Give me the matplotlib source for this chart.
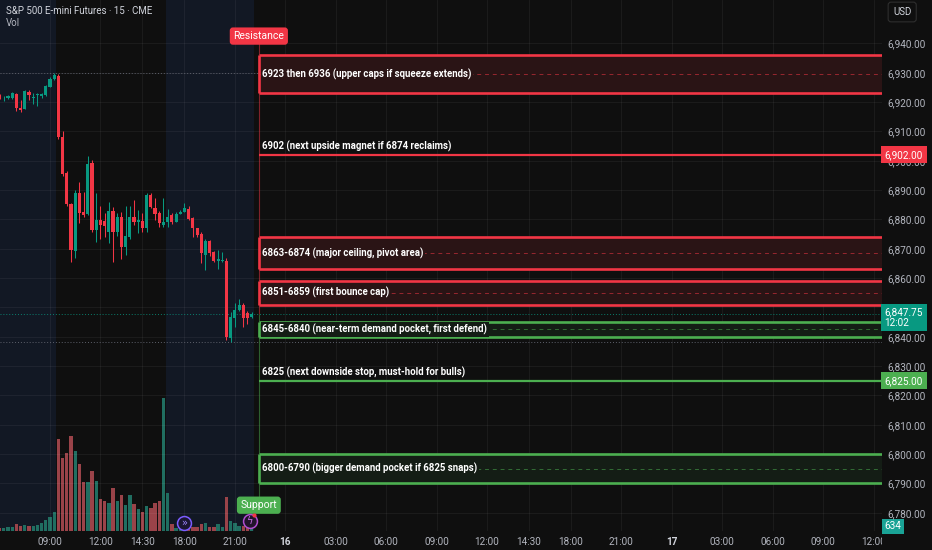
import matplotlib
matplotlib.use("Agg")
import matplotlib.pyplot as plt
import matplotlib.transforms as mtransforms
from matplotlib.colors import to_rgb

# ES 15m bars, bar 0 = 06:00 (session break 17:00-18:00 skipped)
opens = [6922.0, 6921.25, 6921.5, 6921.25, 6922.75, 6918.0, 6917.75, 6923.5, 6921.25, 6922.25,
         6922.0, 6922.5, 6925.25, 6927.75, 6929.0, 6908.0, 6895.75, 6885.25, 6869.25, 6889.0,
         6882.5, 6881.75, 6899.25, 6876.5, 6879.75, 6879.5, 6875.75, 6882.75, 6875.75, 6881.0,
         6870.75, 6874.0, 6881.0, 6879.0, 6879.5, 6877.0, 6888.25, 6883.75, 6882.25, 6878.0,
         6879.0, 6881.5, 6879.25, 6882.0, 6882.5, 6883.5, 6880.5, 6877.0, 6875.0, 6867.75,
         6872.5, 6868.75, 6866.0, 6866.0, 6866.0, 6839.5, 6846.25, 6849.0, 6850.75, 6848.0,
         6846.75]
highs = [6922.75, 6922.0, 6922.5, 6923.5, 6923.0, 6920.75, 6924.25, 6924.0, 6923.0, 6923.25,
         6923.25, 6925.75, 6928.5, 6930.0, 6929.5, 6910.25, 6896.5, 6885.5, 6890.0, 6892.75,
         6889.25, 6901.75, 6900.25, 6889.0, 6884.75, 6882.25, 6886.0, 6884.25, 6882.25, 6882.5,
         6884.75, 6884.75, 6886.5, 6883.25, 6882.25, 6889.0, 6889.0, 6887.25, 6882.75, 6887.25,
         6883.5, 6882.25, 6882.5, 6883.25, 6885.5, 6884.5, 6880.75, 6877.25, 6875.75, 6873.5,
         6873.0, 6869.25, 6869.5, 6869.0, 6866.75, 6848.5, 6851.5, 6853.0, 6851.5, 6848.75,
         6848.5]
lows = [6921.0, 6920.25, 6921.0, 6921.0, 6917.0, 6916.75, 6917.5, 6920.75, 6919.5, 6918.5,
        6921.5, 6922.0, 6925.0, 6927.5, 6907.5, 6894.75, 6884.5, 6865.5, 6866.75, 6878.75,
        6880.75, 6881.5, 6875.75, 6872.25, 6873.5, 6874.0, 6872.0, 6865.5, 6874.25, 6866.5,
        6867.75, 6873.5, 6878.0, 6875.25, 6875.75, 6875.75, 6883.75, 6879.75, 6877.5, 6877.5,
        6877.5, 6878.5, 6879.0, 6881.75, 6882.5, 6879.75, 6874.0, 6874.0, 6865.0, 6862.75,
        6867.5, 6865.5, 6863.25, 6865.5, 6839.0, 6838.25, 6843.5, 6848.75, 6843.5, 6844.5,
        6846.5]
closes = [6921.75, 6921.5, 6922.0, 6923.0, 6918.0, 6917.25, 6923.75, 6922.5, 6921.75, 6922.75,
          6922.75, 6925.5, 6927.75, 6929.25, 6908.0, 6895.5, 6885.25, 6869.5, 6889.0, 6882.25,
          6881.5, 6899.0, 6876.5, 6879.75, 6878.0, 6877.75, 6882.75, 6875.75, 6881.0, 6870.75,
          6874.25, 6880.75, 6879.25, 6879.75, 6877.25, 6888.25, 6884.25, 6882.0, 6878.75, 6879.25,
          6881.0, 6879.0, 6882.0, 6882.5, 6883.75, 6880.0, 6877.0, 6874.75, 6868.5, 6872.5,
          6868.5, 6866.0, 6866.5, 6866.25, 6840.0, 6846.75, 6849.0, 6850.75, 6846.25, 6846.25,
          6847.75]
volumes = [340, 340, 550, 550, 890, 640, 760, 640, 670, 760,
           980, 1400, 1820, 2370, 11650, 9310, 9870, 12100, 10160, 8470,
           6260, 6260, 7620, 6350, 4060, 3810, 3590, 5420, 3810, 4570,
           3300, 4570, 3430, 2790, 2370, 3210, 2960, 3520, 3810, 16850,
           4860, 890, 420, 340, 420, 340, 550, 550, 890, 1050,
           550, 550, 890, 550, 4280, 1270, 1050, 670, 670, 550,
           634]

time_ticks = [12, 24, 34, 44, 56, 68, 80, 92, 104, 116, 126, 136, 148, 160, 172, 184, 196, 208]
time_labels = ["09:00", "12:00", "14:30", "18:00", "21:00", "16", "03:00", "06:00", "09:00",
               "12:00", "14:30", "18:00", "21:00", "17", "03:00", "06:00", "09:00", "12:00"]
price_ticks = list(range(6780, 6941, 10))

rth_start, rth_end = 14, 39          # 09:30 .. 15:45 bars
drawing_start = 61.7                 # where the level drawings begin

zones = [
    (6923, 6936, "6923 then 6936 (upper caps if squeeze extends)", "res"),
    (6863, 6874, "6863-6874 (major ceiling, pivot area)", "res"),
    (6851, 6859, "6851-6859 (first bounce cap)", "res"),
    (6840, 6845, "6845-6840 (near-term demand pocket, first defend)", "sup"),
    (6790, 6800, "6800-6790 (bigger demand pocket if 6825 snaps)", "sup"),
]
levels = [
    (6902, "6902 (next upside magnet if 6874 reclaims)", "res"),
    (6825, "6825 (next downside stop, must-hold for bulls)", "sup"),
]
last_price = 6847.75
day_high = 6930.0
day_low = 6838.25
last_volume = 634

BG = "#0f0f0f"
EXT = "#121824"
UP = "#089981"
DN = "#f23645"
SUP = "#4caf50"
TXT = "#b2b5be"
col = {"res": DN, "sup": SUP}
plt.rcParams["font.family"] = ["Roboto", "DejaVu Sans"]


def mix(c, a, bg=BG):
    c, b = to_rgb(c), to_rgb(bg)
    return tuple(a * x + (1 - a) * y for x, y in zip(c, b))


fig = plt.figure(figsize=(9.32, 5.5), dpi=100, facecolor=BG)
rect = [0, 19 / 550, 882 / 932, 531 / 550]
xlim = (0.1, 210)

# volume + session shading underneath
axv = fig.add_axes(rect)
axv.set_facecolor(BG)
axv.set_xlim(*xlim)
axv.set_ylim(0, 67400)
axv.axis("off")
axv.axvspan(xlim[0], rth_start - 0.5, color=EXT, lw=0, zorder=0)
axv.axvspan(rth_end + 0.5, len(closes) - 0.5, color=EXT, lw=0, zorder=0)
x = list(range(len(closes)))
vcol = [mix("#2aa894", 0.62) if c >= o else mix("#e8606a", 0.64) for o, c in zip(opens, closes)]
axv.bar(x, volumes, width=0.8, color=vcol, zorder=2)

ax = fig.add_axes(rect, sharex=axv)
ax.patch.set_alpha(0)
ax.set_xlim(*xlim)
ax.set_ylim(6773.8, 6954.8)
for s in ax.spines.values():
    s.set_visible(False)

ax.set_xticks(time_ticks)
ax.set_xticklabels(time_labels)
ax.set_yticks(price_ticks)
ax.set_yticklabels([f"{p:,.2f}" for p in price_ticks])
ax.yaxis.tick_right()
ax.tick_params(axis="y", length=0, pad=4, labelsize=7.2, labelcolor=TXT)
ax.tick_params(axis="x", length=0, pad=4, labelsize=7.2, labelcolor=TXT)
ax.grid(True, color="#ffffff", alpha=0.05, lw=0.7)
clip = mtransforms.TransformedBbox(mtransforms.Bbox([[0, 0], [8.82, 5.5]]), fig.dpi_scale_trans)
for t, lab in zip(ax.xaxis.get_major_ticks(), time_labels):
    if lab in ("16", "17"):
        t.label1.set_fontweight("bold")
        t.label1.set_color("#d1d4dc")
    t.label1.set_clip_box(clip)
    t.label1.set_clip_on(True)

# candles
for i, (o, h, l, c) in enumerate(zip(opens, highs, lows, closes)):
    cc = UP if c >= o else DN
    ax.vlines(i, l, h, color=cc, lw=0.75, zorder=3)
    ax.bar(i, max(abs(c - o), 0.3), bottom=min(o, c), width=0.74, color=cc, zorder=3)

# high / low / last price lines
ax.axhline(day_high, color="#5d606b", ls=(0, (1, 2)), lw=0.7, zorder=2)
ax.axhline(day_low, color="#5d606b", ls=(0, (1, 2)), lw=0.7, zorder=2)
ax.axhline(last_price, color=UP, ls=(0, (1, 2)), lw=0.7, alpha=0.8, zorder=2)

# anchor line of the drawing
ax.vlines(drawing_start, last_price, 6940, color=DN, lw=0.8, alpha=0.5, zorder=4)
ax.vlines(drawing_start, 6784, last_price, color=SUP, lw=0.8, alpha=0.5, zorder=4)

for lo, hi, label, kind in zones:
    c = col[kind]
    fill = mix(c, 0.12 if kind == "res" else 0.09)
    ax.fill_between([drawing_start, xlim[1]], lo, hi, color=fill, lw=0, zorder=4)
    ax.hlines([lo, hi], drawing_start, xlim[1], color=c, lw=1.9, zorder=5)
    ax.vlines(drawing_start, lo, hi, color=c, lw=1.9, zorder=5)
    mid = (lo + hi) / 2
    ax.hlines(mid, drawing_start, xlim[1], color=c, lw=0.7, alpha=0.55, ls=(0, (4, 4)), zorder=5)
    ax.text(drawing_start + 0.8, mid, label, color="white", fontsize=6.9, fontweight="bold",
            va="center", ha="left", zorder=6,
            bbox=dict(boxstyle="square,pad=0.15", fc=fill, ec="none"))

for p, label, kind in levels:
    c = col[kind]
    ax.hlines(p, drawing_start, xlim[1], color=c, lw=1.6, zorder=5)
    ax.annotate(label, (drawing_start + 0.8, p), xytext=(0, 2.2), textcoords="offset points",
                color="white", fontsize=6.9, fontweight="bold",
                va="bottom", ha="left", zorder=6)
    ax.text(1.003, p, f"{p:,.2f}", transform=ax.get_yaxis_transform(), color="white",
            fontsize=7.2, va="center", ha="left", zorder=7, clip_on=False,
            bbox=dict(boxstyle="square,pad=0.35", fc=c, ec="none"))

ax.text(1.003, last_price - 1.2, f"{last_price:,.2f}\n12:02", transform=ax.get_yaxis_transform(),
        color="white", fontsize=7.2, va="center", ha="left", zorder=7, clip_on=False, linespacing=1.1,
        bbox=dict(boxstyle="square,pad=0.35", fc=UP, ec="none"))
axv.text(1.003, last_volume, f"{last_volume}", transform=axv.get_yaxis_transform(),
         color="white", fontsize=7.2, va="center", ha="left", zorder=7, clip_on=False,
         bbox=dict(boxstyle="square,pad=0.25", fc="#1aa396", ec="none"))

# Resistance / Support tags
ax.text(drawing_start, 6942.5, "Resistance", color="white", fontsize=7.5, ha="center", va="center",
        zorder=8, bbox=dict(boxstyle="round,pad=0.35,rounding_size=0.3", fc=DN, ec="none"))
ax.text(drawing_start, 6782.6, "Support", color="white", fontsize=7.5, ha="center", va="center",
        zorder=8, bbox=dict(boxstyle="round,pad=0.35,rounding_size=0.3", fc=SUP, ec="none"))

# event markers on the time scale
bt = mtransforms.blended_transform_factory(ax.transData, ax.transAxes)
ax.plot([44], [0.016], "o", ms=10, mfc="#1b1633", mec="#7b5cff", mew=1.1, transform=bt,
        zorder=8, clip_on=False)
ax.text(44, 0.016, "»", color="#9d86ff", fontsize=7, ha="center", va="center", transform=bt,
        zorder=9, family="DejaVu Sans")
ax.plot([59.5], [0.018], "o", ms=10, mfc="#22142c", mec="#b04fd0", mew=1.1, transform=bt,
        zorder=8, clip_on=False)
ax.text(59.5, 0.018, "ϟ", color="#c46ae0", fontsize=7, ha="center", va="center", transform=bt,
        zorder=9, family="DejaVu Sans")
ax.plot([60.6], [0.031], "o", ms=3, mfc=DN, mec="none", transform=bt, zorder=9, clip_on=False)

# header
fig.text(6 / 932, 1 - 11 / 550, "S&P 500 E-mini Futures · 15 · CME", color="#d1d4dc",
         fontsize=7, va="center", ha="left")
fig.text(6 / 932, 1 - 23 / 550, "Vol", color=TXT, fontsize=7, va="center", ha="left")
fig.text(893 / 932, 1 - 12 / 550, "USD", color="#d1d4dc", fontsize=7, va="center", ha="left",
         bbox=dict(boxstyle="round,pad=0.5,rounding_size=0.3", fc=BG, ec="#2e2e2e", lw=0.8))

fig.savefig("out.png", dpi=100, facecolor=BG)
